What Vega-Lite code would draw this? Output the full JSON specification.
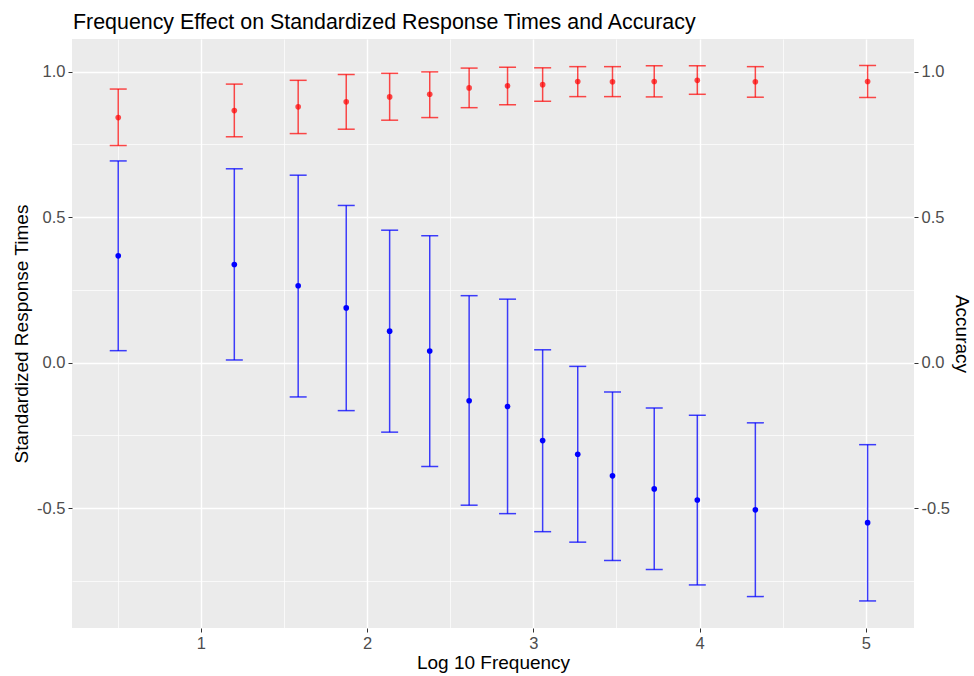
{
  "$schema": "https://vega.github.io/schema/vega-lite/v6.json",
  "width": 842,
  "height": 589,
  "autosize": {"type": "none"},
  "padding": {"left": 72, "top": 39, "right": 60, "bottom": 48},
  "background": "white",
  "title": {
    "text": "Frequency Effect on Standardized Response Times and Accuracy",
    "anchor": "start",
    "frame": "group",
    "font": "Liberation Sans",
    "fontSize": 21.4,
    "fontWeight": "normal",
    "color": "black",
    "offset": 6,
    "dx": 1
  },
  "config": {
    "view": {"fill": "#EBEBEB", "stroke": null},
    "axis": {
      "domain": false,
      "labelFont": "Liberation Sans",
      "labelFontSize": 16.5,
      "labelColor": "#4D4D4D",
      "tickColor": "#333333",
      "tickSize": 4,
      "labelPadding": 3,
      "titleFont": "Liberation Sans",
      "titleFontSize": 19,
      "titleFontWeight": "normal",
      "titleColor": "black",
      "gridColor": "white"
    }
  },
  "datasets": {
    "rt": [
      {"freq": 0.504, "mean": 0.367, "lo": 0.041, "hi": 0.693},
      {"freq": 1.202, "mean": 0.337, "lo": 0.009, "hi": 0.666},
      {"freq": 1.586, "mean": 0.264, "lo": -0.118, "hi": 0.644},
      {"freq": 1.875, "mean": 0.188, "lo": -0.165, "hi": 0.540},
      {"freq": 2.136, "mean": 0.108, "lo": -0.239, "hi": 0.455},
      {"freq": 2.377, "mean": 0.040, "lo": -0.357, "hi": 0.436},
      {"freq": 2.614, "mean": -0.131, "lo": -0.490, "hi": 0.230},
      {"freq": 2.845, "mean": -0.151, "lo": -0.519, "hi": 0.218},
      {"freq": 3.056, "mean": -0.268, "lo": -0.581, "hi": 0.044},
      {"freq": 3.267, "mean": -0.315, "lo": -0.617, "hi": -0.013},
      {"freq": 3.476, "mean": -0.389, "lo": -0.680, "hi": -0.101},
      {"freq": 3.727, "mean": -0.434, "lo": -0.711, "hi": -0.156},
      {"freq": 3.986, "mean": -0.472, "lo": -0.764, "hi": -0.181},
      {"freq": 4.335, "mean": -0.506, "lo": -0.804, "hi": -0.207},
      {"freq": 5.01, "mean": -0.550, "lo": -0.819, "hi": -0.282}
    ],
    "acc": [
      {"freq": 0.504, "mean": 0.842, "lo": 0.746, "hi": 0.940},
      {"freq": 1.202, "mean": 0.866, "lo": 0.776, "hi": 0.957},
      {"freq": 1.586, "mean": 0.879, "lo": 0.787, "hi": 0.970},
      {"freq": 1.875, "mean": 0.896, "lo": 0.802, "hi": 0.990},
      {"freq": 2.136, "mean": 0.913, "lo": 0.833, "hi": 0.994},
      {"freq": 2.377, "mean": 0.922, "lo": 0.842, "hi": 0.999},
      {"freq": 2.614, "mean": 0.944, "lo": 0.876, "hi": 1.012},
      {"freq": 2.845, "mean": 0.951, "lo": 0.886, "hi": 1.015},
      {"freq": 3.056, "mean": 0.955, "lo": 0.898, "hi": 1.013},
      {"freq": 3.267, "mean": 0.966, "lo": 0.914, "hi": 1.017},
      {"freq": 3.476, "mean": 0.965, "lo": 0.914, "hi": 1.017},
      {"freq": 3.727, "mean": 0.966, "lo": 0.913, "hi": 1.020},
      {"freq": 3.986, "mean": 0.970, "lo": 0.922, "hi": 1.020},
      {"freq": 4.335, "mean": 0.965, "lo": 0.912, "hi": 1.017},
      {"freq": 5.01, "mean": 0.966, "lo": 0.911, "hi": 1.021}
    ]
  },
  "resolve": {"scale": {"y": "independent"}, "axis": {"y": "independent"}},
  "layer": [
    {
      "data": {"name": "rt"},
      "encoding": {
        "x": {
          "field": "freq",
          "type": "quantitative",
          "scale": {"domain": [0.226, 5.289], "nice": false, "zero": false},
          "title": "Log 10 Frequency",
          "axis": {
            "values": [0.5, 1, 1.5, 2, 2.5, 3, 3.5, 4, 4.5, 5],
            "grid": true,
            "labelExpr": "datum.value % 1 === 0 ? format(datum.value, 'd') : ''",
            "gridWidth": {"condition": {"test": "datum.value % 1 === 0", "value": 1.4}, "value": 0.7},
            "tickOpacity": {"condition": {"test": "datum.value % 1 === 0", "value": 1}, "value": 0},
            "titlePadding": 2
          }
        }
      },
      "layer": [
        {
          "mark": {"type": "rule", "color": "#0000FF", "opacity": 0.75, "strokeWidth": 1.5},
          "encoding": {
            "y": {
              "field": "lo",
              "type": "quantitative",
              "title": "Standardized Response Times",
              "scale": {"domain": [-0.912, 1.112], "nice": false, "zero": false},
              "axis": {
                "orient": "left",
                "values": [-0.75, -0.5, -0.25, 0, 0.25, 0.5, 0.75, 1.0],
                "grid": true,
                "labelExpr": "abs(datum.value * 2 - round(datum.value * 2)) < 0.001 ? (datum.value < 0 ? '-' : '') + format(abs(datum.value), '.1f') : ''",
                "gridWidth": {"condition": {"test": "abs(datum.value * 2 - round(datum.value * 2)) < 0.001", "value": 1.4}, "value": 0.7},
                "tickOpacity": {"condition": {"test": "abs(datum.value * 2 - round(datum.value * 2)) < 0.001", "value": 1}, "value": 0},
                "titlePadding": 5
              }
            },
            "y2": {"field": "hi"}
          }
        },
        {
          "mark": {"type": "tick", "orient": "horizontal", "size": 17, "thickness": 1.5, "color": "#0000FF", "opacity": 0.75},
          "encoding": {"y": {"field": "lo", "type": "quantitative", "title": "Standardized Response Times"}}
        },
        {
          "mark": {"type": "tick", "orient": "horizontal", "size": 17, "thickness": 1.5, "color": "#0000FF", "opacity": 0.75},
          "encoding": {"y": {"field": "hi", "type": "quantitative", "title": "Standardized Response Times"}}
        },
        {
          "mark": {"type": "point", "filled": true, "color": "#0000FF", "opacity": 1, "size": 32},
          "encoding": {"y": {"field": "mean", "type": "quantitative", "title": "Standardized Response Times"}}
        }
      ]
    },
    {
      "data": {"name": "acc"},
      "encoding": {
        "x": {"field": "freq", "type": "quantitative", "scale": {"domain": [0.226, 5.289], "nice": false, "zero": false}, "title": "Log 10 Frequency"}
      },
      "layer": [
        {
          "mark": {"type": "rule", "color": "#FF0000", "opacity": 0.7, "strokeWidth": 1.5},
          "encoding": {
            "y": {
              "field": "lo",
              "type": "quantitative",
              "title": "Accuracy",
              "scale": {"domain": [-0.912, 1.112], "nice": false, "zero": false},
              "axis": {
                "orient": "right",
                "values": [-0.5, 0, 0.5, 1.0],
                "grid": false,
                "labelExpr": "(datum.value < 0 ? '-' : '') + format(abs(datum.value), '.1f')",
                "titleAngle": 90,
                "titlePadding": 2
              }
            },
            "y2": {"field": "hi"}
          }
        },
        {
          "mark": {"type": "tick", "orient": "horizontal", "size": 17, "thickness": 1.5, "color": "#FF0000", "opacity": 0.7},
          "encoding": {"y": {"field": "lo", "type": "quantitative", "title": "Accuracy"}}
        },
        {
          "mark": {"type": "tick", "orient": "horizontal", "size": 17, "thickness": 1.5, "color": "#FF0000", "opacity": 0.7},
          "encoding": {"y": {"field": "hi", "type": "quantitative", "title": "Accuracy"}}
        },
        {
          "mark": {"type": "point", "filled": true, "color": "#FF0000", "opacity": 0.7, "size": 32},
          "encoding": {"y": {"field": "mean", "type": "quantitative", "title": "Accuracy"}}
        }
      ]
    }
  ]
}
